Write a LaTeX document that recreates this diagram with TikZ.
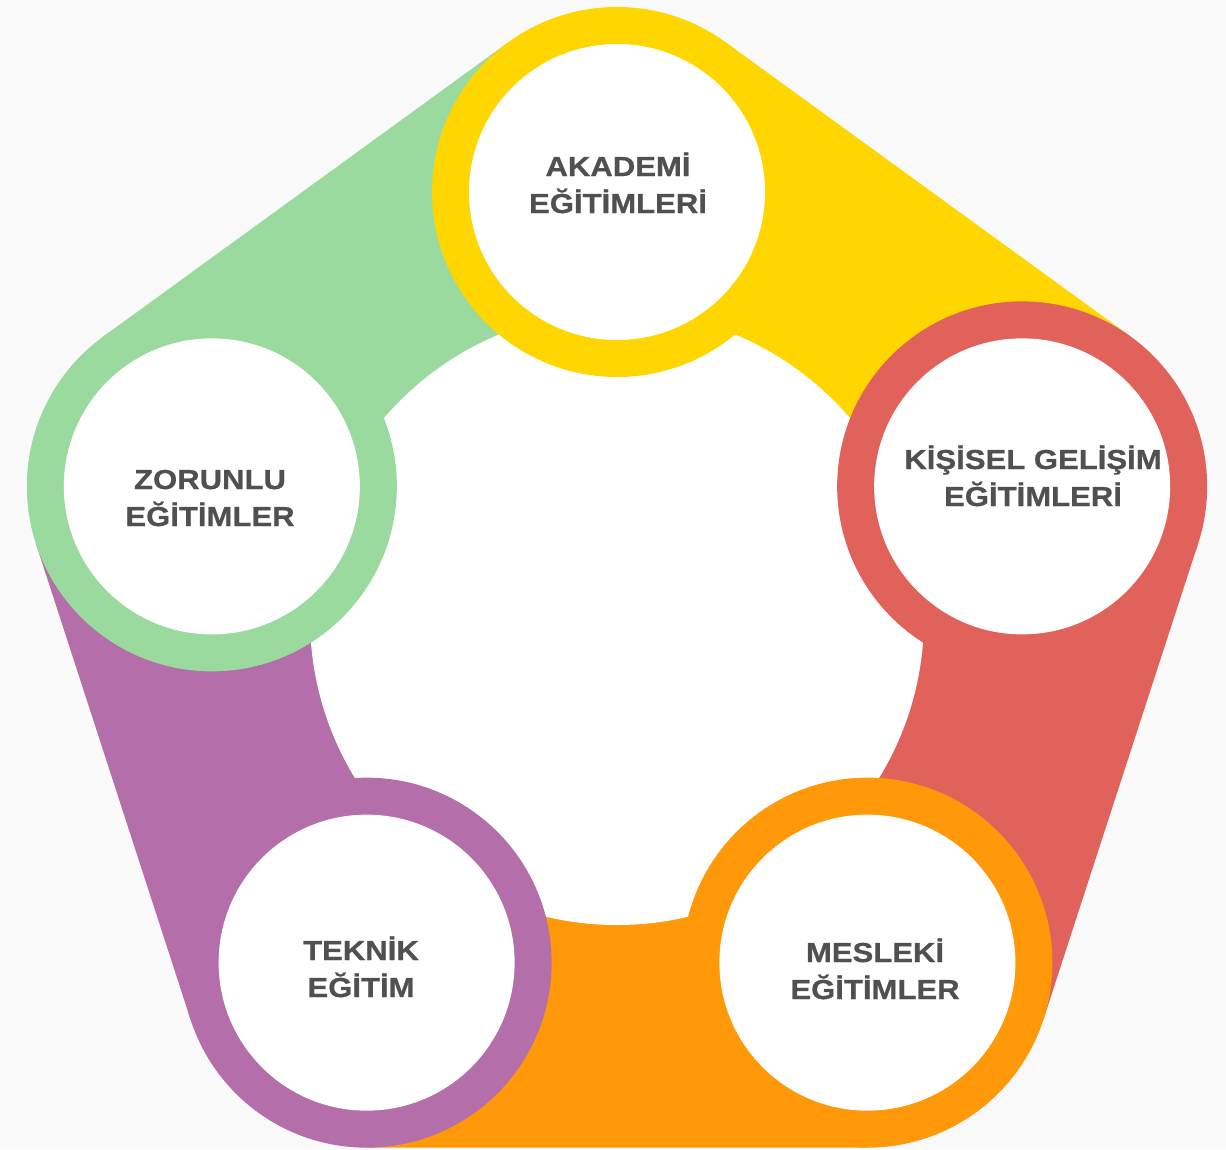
\documentclass[tikz,border=0pt]{standalone}
\usepackage{fontspec}
\newfontfamily\lblfont[FakeStretch=1.13,BoldFeatures={FakeBold=0.7}]{Liberation Sans}
\usetikzlibrary{calc}
\definecolor{ylw}{HTML}{FFD600}
\definecolor{redc}{HTML}{E0625A}
\definecolor{org}{HTML}{FF990A}
\definecolor{pur}{HTML}{B46EAA}
\definecolor{grn}{HTML}{9BDA9E}
\definecolor{txt}{HTML}{505050}
\definecolor{bgc}{HTML}{FAFAFA}
\begin{document}
\begin{tikzpicture}[x=1pt,y=-1pt,
  ring/.style={circle,inner sep=0pt,minimum size=370pt},
  hole/.style={circle,fill=white,inner sep=0pt,minimum size=296pt},
  lbl/.style={anchor=base,text=txt,inner sep=0pt,font=\lblfont\bfseries\fontsize{27.5}{37}\selectfont}]
\fill[bgc] (0,0) rectangle (1226,1149);
\useasboundingbox (0,0) rectangle (1226,1149);
\coordinate (O) at (617,618);
\foreach \n/\a in {1/-90,2/-18,3/54,4/126,5/198}{
  \coordinate (V\n) at ($(O)+(\a:426)$);
  \coordinate (A\n) at ($(V\n)+(\a+36:185)$);
  \coordinate (B\n) at ($(V\n)+(\a-36:185)$);
}
% bands
\fill[ylw]  (O) -- (V1) -- (A1) -- (B2) -- (V2) -- cycle;
\fill[redc] (O) -- (V2) -- (A2) -- (B3) -- (V3) -- cycle;
\fill[org]  (O) -- (V3) -- (A3) -- (B4) -- (V4) -- cycle;
\fill[pur]  (O) -- (V4) -- (A4) -- (B5) -- (V5) -- cycle;
\fill[grn]  (O) -- (V5) -- (A5) -- (B1) -- (V1) -- cycle;
% centre
\node[circle,fill=white,inner sep=0pt,minimum size=614pt] (mid) at (O) {};
% vertex circles
\node[ring,fill=ylw]  (r1) at (V1) {};
\node[ring,fill=redc] (r2) at (V2) {};
\node[ring,fill=org]  (r3) at (V3) {};
\node[ring,fill=pur]  (r4) at (V4) {};
\node[ring,fill=grn]  (r5) at (V5) {};
\node[hole] (h1) at (V1) {};
\node[hole] (h2) at (V2) {};
\node[hole] (h3) at (V3) {};
\node[hole] (h4) at (V4) {};
\node[hole] (h5) at (V5) {};
% labels
\node[lbl] (t1a) at (618,176) {AKADEMİ};
\node[lbl] (t1b) at (618,213) {EĞİTİMLERİ};
\node[lbl] (t2a) at (1033,469) {KİŞİSEL GELİŞİM};
\node[lbl] (t2b) at (1033,506) {EĞİTİMLERİ};
\node[lbl] (t3a) at (875,962) {MESLEKİ};
\node[lbl] (t3b) at (875,999) {EĞİTİMLER};
\node[lbl] (t4a) at (361,960) {TEKNİK};
\node[lbl] (t4b) at (361,997) {EĞİTİM};
\node[lbl] (t5a) at (210,489) {ZORUNLU};
\node[lbl] (t5b) at (210,526) {EĞİTİMLER};
\end{tikzpicture}
\end{document}
